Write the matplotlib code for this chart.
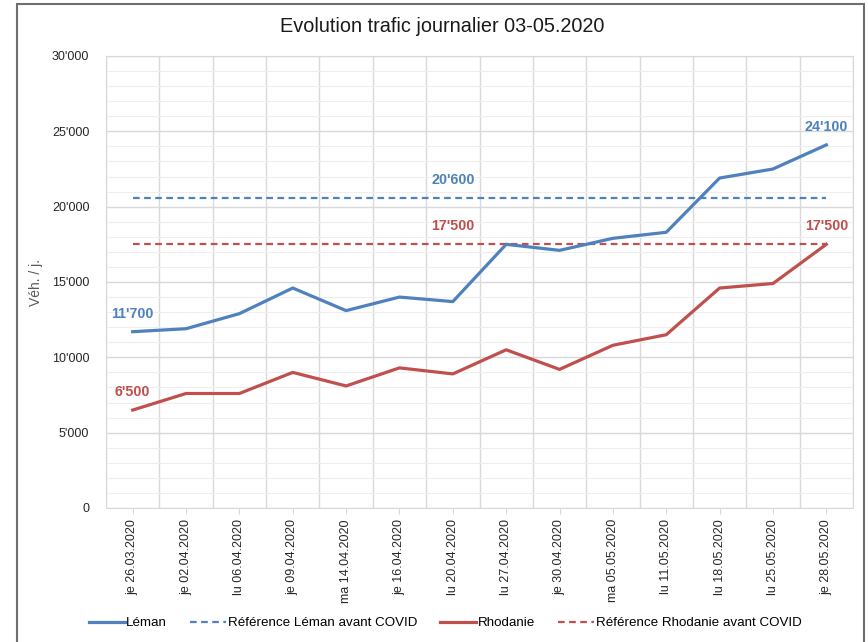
import numpy as np
import matplotlib
matplotlib.use('Agg')
import matplotlib.pyplot as plt
from matplotlib.ticker import FuncFormatter, MultipleLocator
from matplotlib.patches import Rectangle

plt.rcParams['font.family'] = ['Liberation Sans', 'DejaVu Sans']

# data
dates = ['je 26.03.2020', 'je 02.04.2020', 'lu 06.04.2020', 'je 09.04.2020',
         'ma 14.04.2020', 'je 16.04.2020', 'lu 20.04.2020', 'lu 27.04.2020',
         'je 30.04.2020', 'ma 05.05.2020', 'lu 11.05.2020', 'lu 18.05.2020',
         'lu 25.05.2020', 'je 28.05.2020']
leman = [11700, 11900, 12900, 14600, 13100, 14000, 13700,
         17500, 17100, 17900, 18300, 21900, 22500, 24100]
rhodanie = [6500, 7600, 7600, 9000, 8100, 9300, 8900,
            10500, 9200, 10800, 11500, 14600, 14900, 17500]
ref_leman = [20600] * len(dates)
ref_rhodanie = [17500] * len(dates)

blue = '#4F81BD'
red = '#C0504D'

def fmt(v, pos=None):
    return "{:,.0f}".format(v).replace(',', "'")

fig = plt.figure(figsize=(8.68, 6.42), dpi=100)
ax = fig.add_axes([106/868, 1 - 508/642, (853 - 106)/868, (508 - 56)/642])

x = np.arange(len(dates))
ax.plot(x, leman, color=blue, lw=2.3, label='Léman', zorder=4)
ax.plot(x, ref_leman, color=blue, lw=1.6, ls=(0, (3, 2)), label='Référence Léman avant COVID', zorder=3)
ax.plot(x, rhodanie, color=red, lw=2.3, label='Rhodanie', zorder=4)
ax.plot(x, ref_rhodanie, color=red, lw=1.6, ls=(0, (3, 2)), label='Référence Rhodanie avant COVID', zorder=3)

# data labels
lab = [(leman, 0, blue), (leman, 13, blue), (rhodanie, 0, red), (rhodanie, 13, red),
       (ref_leman, 6, blue), (ref_rhodanie, 6, red)]
for ser, i, c in lab:
    ax.annotate(fmt(ser[i]), (x[i], ser[i]), xytext=(0, 8), textcoords='offset points',
                ha='center', va='bottom', color=c, fontsize=10.3, fontweight='bold')

ax.set_xlim(-0.5, len(dates) - 0.5)
ax.set_ylim(0, 30000)
ax.yaxis.set_major_locator(MultipleLocator(5000))
ax.yaxis.set_minor_locator(MultipleLocator(1000))
ax.yaxis.set_major_formatter(FuncFormatter(fmt))
ax.set_xticks(x)
ax.set_xticklabels(dates, rotation=90, fontsize=9, color='#262626')
ax.set_xticks(np.arange(len(dates) + 1) - 0.5, minor=True)
ax.tick_params(axis='y', length=0, pad=12, labelsize=9, labelcolor='#262626')
ax.tick_params(axis='y', which='minor', length=0)
ax.tick_params(axis='x', which='major', length=4, color='#d9d9d9', pad=4)
ax.tick_params(axis='x', which='minor', length=0)

ax.grid(True, axis='x', which='minor', color='#d9d9d9', lw=1)
ax.grid(True, axis='y', which='major', color='#d9d9d9', lw=1)
ax.grid(True, axis='y', which='minor', color='#eeeeee', lw=0.8)
ax.set_axisbelow(True)
for s in ax.spines.values():
    s.set_color('#d9d9d9')

ax.set_ylabel('Véh. / j.', fontsize=10, color='#595959', labelpad=10)
ax.yaxis.set_label_coords(-0.084, 0.5)
fig.text(442/868, 1 - 26/642, 'Evolution trafic journalier 03-05.2020', ha='center', va='center',
         fontsize=14.3, color='#1a1a1a')

fig.legend(loc='center', bbox_to_anchor=(445/868, 1 - 623/642), ncol=4, frameon=False,
           fontsize=9.6, handlelength=2.7, handletextpad=0.1, columnspacing=1.75)

# outer chart frame
fig.patches.append(Rectangle((17/868, -0.05), (864 - 17)/868, 1.05 - 4/642, transform=fig.transFigure,
                             fill=False, edgecolor='#6e6e6e', lw=1.5))

fig.savefig('out.png', dpi=100)
